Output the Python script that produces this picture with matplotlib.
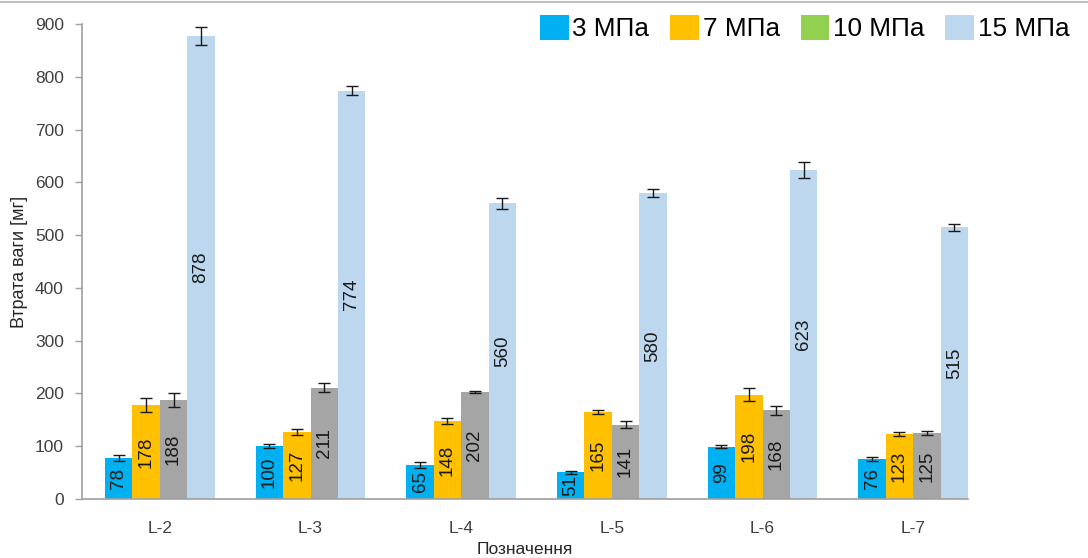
import numpy as np
import matplotlib
matplotlib.use("Agg")
import matplotlib.pyplot as plt
from matplotlib.patches import Patch
from matplotlib.lines import Line2D

plt.rcParams['font.family'] = ['Liberation Sans', 'DejaVu Sans']

categories = ['L-2', 'L-3', 'L-4', 'L-5', 'L-6', 'L-7']
series_names = ['3 МПа', '7 МПа', '10 МПа', '15 МПа']
p3 = [78, 100, 65, 51, 99, 76]
p7 = [178, 127, 148, 165, 198, 123]
p10 = [188, 211, 202, 141, 168, 125]
p15 = [878, 774, 560, 580, 623, 515]
e3 = [6, 4, 6, 3, 3, 4]
e7 = [13, 5, 6, 3, 12, 4]
e10 = [13, 9, 2, 6, 8, 4]
e15 = [17, 9, 10, 8, 15, 7]

bar_colors = ['#00B0F0', '#FFC000', '#A5A5A5', '#BDD7EE']
legend_colors = ['#00B0F0', '#FFC000', '#92D050', '#BDD7EE']

W, H = 1088, 558
fig = plt.figure(figsize=(W / 100, H / 100), dpi=100)
ax = fig.add_axes([82 / W, (H - 499) / H, (968 - 82) / W, (499 - 24) / H])

x = np.arange(len(categories))
w = 0.182
values = [p3, p7, p10, p15]
errs = [e3, e7, e10, e15]
for i, (vals, er, col) in enumerate(zip(values, errs, bar_colors)):
    pos = x + (i - 1.5) * w
    bars = ax.bar(pos, vals, width=w, color=col, edgecolor='none',
                  yerr=er, capsize=4.3,
                  error_kw=dict(ecolor='#1a1a1a', elinewidth=1.0, capthick=1.0))
    for b, v in zip(bars, vals):
        ax.text(b.get_x() + b.get_width() / 2, v / 2, str(v), rotation=90,
                ha='center', va='center', fontsize=13.5, color='#1a1a1a')

ax.set_xlim(x[0] - 0.517, x[-1] + 2 * w)
ax.set_ylim(0, 900)
ax.set_yticks(range(0, 901, 100))
ax.set_xticks(x)
ax.set_xticklabels(categories)
ax.tick_params(axis='x', length=0, pad=16, labelsize=12.5, labelcolor='#404040')
ax.tick_params(axis='y', length=5, width=1, color='#A0A0A0', pad=8,
               labelsize=12.5, labelcolor='#404040')
for s in ['top', 'right']:
    ax.spines[s].set_visible(False)
for s in ['left', 'bottom']:
    ax.spines[s].set_color('#A0A0A0')
    ax.spines[s].set_linewidth(1.2)

ax.set_ylabel('Втрата ваги [мг]', fontsize=13, color='#262626', labelpad=5)
ax.set_xlabel('Позначення', fontsize=12.5, color='#262626', labelpad=4)

handles = [Patch(facecolor=c, edgecolor='none') for c in legend_colors]
fig.legend(handles, series_names, loc='upper left',
           bbox_to_anchor=(540 / W, 1 - 15 / H), ncol=4, frameon=False,
           fontsize=18.8, handlelength=1.1, handleheight=1.1,
           handletextpad=0.14, columnspacing=0.8, borderpad=0,
           borderaxespad=0)

fig.add_artist(Line2D([0, 1], [1 - 1.5 / H, 1 - 1.5 / H],
                      transform=fig.transFigure, color='#C0C0C0', lw=1.5))

fig.savefig('out.png', dpi=100)
